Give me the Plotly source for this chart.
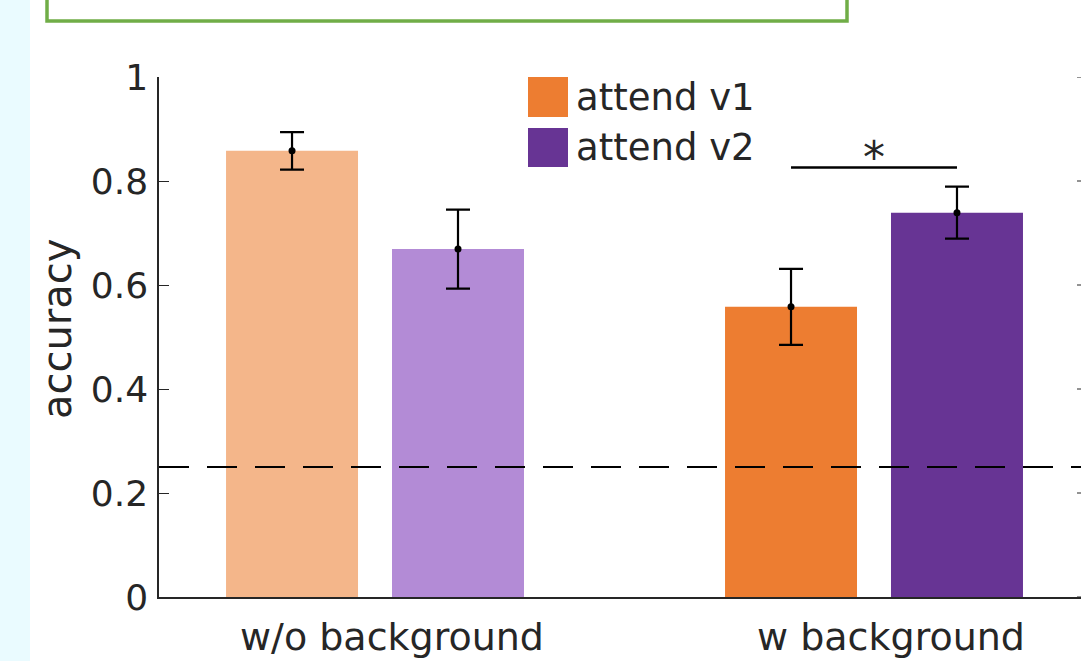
import plotly.graph_objects as go

# ---- data ----
categories = ["w/o background", "w background"]
series_names = ["attend v1", "attend v2"]
v1_mean = [0.858, 0.558]
v1_err = [0.036, 0.073]
v2_mean = [0.669, 0.739]
v2_err = [0.076, 0.050]
chance_level = 0.25
sig_height = 0.826
y_ticks = [0, 0.2, 0.4, 0.6, 0.8, 1]
y_ticklabels = ["0", "0.2", "0.4", "0.6", "0.8", "1"]

# ---- style / layout constants ----
W, H = 1081, 661
ML, MR, MT, MB = 159, 0, 77, 64
PW, PH = W - ML - MR, H - MT - MB
FONT = "DejaVu Sans"
AX = "#262626"
c_v1 = ["#F4B68A", "#ED7D31"]
c_v2 = ["#B38BD6", "#673494"]
d = 0.1663       # half distance between bars in a group
bw = 0.2645      # bar width
group_pos = [1, 2]

def px_x(p):
    return (p - ML) / PW

def px_y(p):
    return (H - MB - p) / PH

x1 = [g - d for g in group_pos]
x2 = [g + d for g in group_pos]

fig = go.Figure()
errstyle = dict(type="data", thickness=2.2, width=12, color="black")
fig.add_trace(go.Bar(x=x1, y=v1_mean, width=bw, name=series_names[0],
                     marker=dict(color=c_v1, line=dict(width=0)),
                     error_y=dict(array=v1_err, **errstyle), showlegend=False))
fig.add_trace(go.Bar(x=x2, y=v2_mean, width=bw, name=series_names[1],
                     marker=dict(color=c_v2, line=dict(width=0)),
                     error_y=dict(array=v2_err, **errstyle), showlegend=False))
fig.add_trace(go.Scatter(x=x1 + x2, y=v1_mean + v2_mean, mode="markers",
                         marker=dict(color="black", size=7), showlegend=False,
                         hoverinfo="skip"))

shapes = []
# left cyan strip (page background of the cropped figure)
shapes.append(dict(type="rect", xref="paper", yref="paper", x0=-0.2, x1=px_x(30),
                   y0=-0.3, y1=1.4, fillcolor="#EAFBFF", line=dict(width=0), layer="below"))
# green caption box (cropped)
shapes.append(dict(type="rect", xref="paper", yref="paper", x0=px_x(47), x1=px_x(847),
                   y0=px_y(21), y1=px_y(-20), fillcolor="white",
                   line=dict(color="#70AD47", width=3.5), layer="above"))
# chance line
shapes.append(dict(type="line", xref="paper", yref="y", x0=0, x1=1, y0=chance_level, y1=chance_level,
                   line=dict(color="black", width=2, dash="30px,18px"), layer="above"))
# significance bar
shapes.append(dict(type="line", xref="x", yref="y", x0=x1[1], x1=x2[1], y0=sig_height, y1=sig_height,
                   line=dict(color="black", width=2.5), layer="above"))
# mirrored right ticks (axis box continues beyond crop)
for t in y_ticks:
    shapes.append(dict(type="line", xref="paper", yref="y", x0=px_x(1077), x1=1.0, y0=t, y1=t,
                       line=dict(color=AX, width=1), layer="above"))
# manual legend swatches
shapes.append(dict(type="rect", xref="paper", yref="paper", x0=px_x(528), x1=px_x(568),
                   y0=px_y(117), y1=px_y(77), fillcolor=c_v1[1], line=dict(width=0)))
shapes.append(dict(type="rect", xref="paper", yref="paper", x0=px_x(528), x1=px_x(568),
                   y0=px_y(167), y1=px_y(128), fillcolor=c_v2[1], line=dict(width=0)))

annotations = []
annotations.append(dict(text=series_names[0], xref="paper", yref="paper", x=px_x(574), y=px_y(98),
                        xanchor="left", yanchor="middle", showarrow=False,
                        font=dict(family=FONT, size=37, color=AX)))
annotations.append(dict(text=series_names[1], xref="paper", yref="paper", x=px_x(574), y=px_y(147),
                        xanchor="left", yanchor="middle", showarrow=False,
                        font=dict(family=FONT, size=37, color=AX)))
annotations.append(dict(text="*", xref="x", yref="y", x=group_pos[1], y=sig_height,
                        xanchor="center", yanchor="bottom", yshift=-18, showarrow=False,
                        font=dict(family=FONT, size=44, color=AX)))
annotations.append(dict(text="accuracy", xref="paper", yref="paper", x=px_x(57), y=px_y(329),
                        xanchor="center", yanchor="middle", textangle=-90, showarrow=False,
                        font=dict(family=FONT, size=40, color=AX)))

fig.update_layout(
    width=W, height=H, autosize=False,
    margin=dict(l=ML, r=MR, t=MT, b=MB, pad=0),
    paper_bgcolor="white", plot_bgcolor="white",
    barmode="overlay", showlegend=False,
    shapes=shapes, annotations=annotations,
    font=dict(family=FONT, color=AX),
)
fig.update_xaxes(range=[1 - 0.4329, 1 + (W - 375) / 499], tickvals=group_pos, ticktext=categories,
                 showline=True, linecolor=AX, linewidth=1.5, ticks="", showgrid=False,
                 zeroline=False, ticklabelstandoff=6, ticklabelshift=17,
                 tickfont=dict(family=FONT, size=38, color=AX))
fig.update_yaxes(range=[0, 1], tickvals=y_ticks, ticktext=y_ticklabels,
                 showline=True, linecolor=AX, linewidth=1.5, ticks="inside", ticklen=10,
                 tickcolor=AX, tickwidth=1, showgrid=False, zeroline=False,
                 ticklabelstandoff=2,
                 tickfont=dict(family=FONT, size=36, color=AX))

fig.write_html("out.html")
